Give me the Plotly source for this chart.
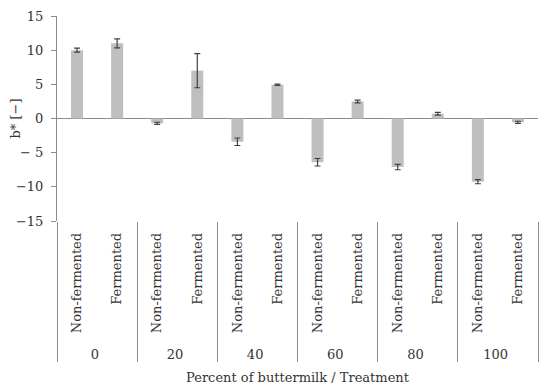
import plotly.graph_objects as go

groups = ["0", "20", "40", "60", "80", "100"]
treatments = ["Non-fermented", "Fermented"]
b_values = [10.0, 11.0, -0.7, 7.0, -3.4, 4.95, -6.4, 2.5, -7.1, 0.7, -9.25, -0.55]
b_errors = [0.3, 0.65, 0.15, 2.5, 0.55, 0.1, 0.55, 0.2, 0.4, 0.2, 0.3, 0.15]
y_tickvals = [15, 10, 5, 0, -5, -10, -15]
y_ticktext = ["15", "10", "5", "0", "\u2212 5", "\u221210", "\u221215"]

NBSP = "\u00a0"
x_outer = [g for g in groups for _ in treatments]
# trailing non-breaking spaces pad the rotated labels away from the axis
x_inner = [t + NBSP * 2 for _ in groups for t in treatments]

FONT = "DejaVu Serif"
AXIS_COLOR = "#8c8c8c"
TEXT = "#333333"

fig = go.Figure()
fig.add_trace(go.Bar(
    x=[x_outer, x_inner],
    y=b_values,
    width=0.3,
    marker=dict(color="#bfbfbf", line=dict(width=0)),
    error_y=dict(type="data", array=b_errors, visible=True,
                 color="#404040", thickness=1.2, width=3),
))

fig.update_layout(
    width=542, height=381,
    margin=dict(l=49, r=12, t=8, b=168),
    paper_bgcolor="white", plot_bgcolor="white",
    font=dict(family=FONT, size=13, color=TEXT),
    showlegend=False,
    xaxis=dict(
        type="multicategory",
        automargin=False,
        showline=False, showgrid=False, zeroline=False,
        tickangle=-90,
        ticks="",
        showdividers=True, dividercolor=AXIS_COLOR, dividerwidth=1,
        tickfont=dict(family=FONT, size=13, color=TEXT),
        title=dict(text="Percent of buttermilk / Treatment",
                   font=dict(family=FONT, size=13, color=TEXT), standoff=12),
    ),
    yaxis=dict(
        automargin=False,
        range=[-15, 15],
        tickvals=y_tickvals, ticktext=y_ticktext,
        showgrid=False,
        zeroline=True, zerolinecolor=AXIS_COLOR, zerolinewidth=1,
        showline=True, linecolor=AXIS_COLOR, linewidth=1,
        ticks="outside", ticklen=5, tickcolor=AXIS_COLOR,
        ticklabelstandoff=5,
        tickfont=dict(family=FONT, size=13, color=TEXT),
        title=dict(text="b* [\u2212]", font=dict(family=FONT, size=13, color=TEXT), standoff=6),
    ),
)

fig.write_html("out.html")
